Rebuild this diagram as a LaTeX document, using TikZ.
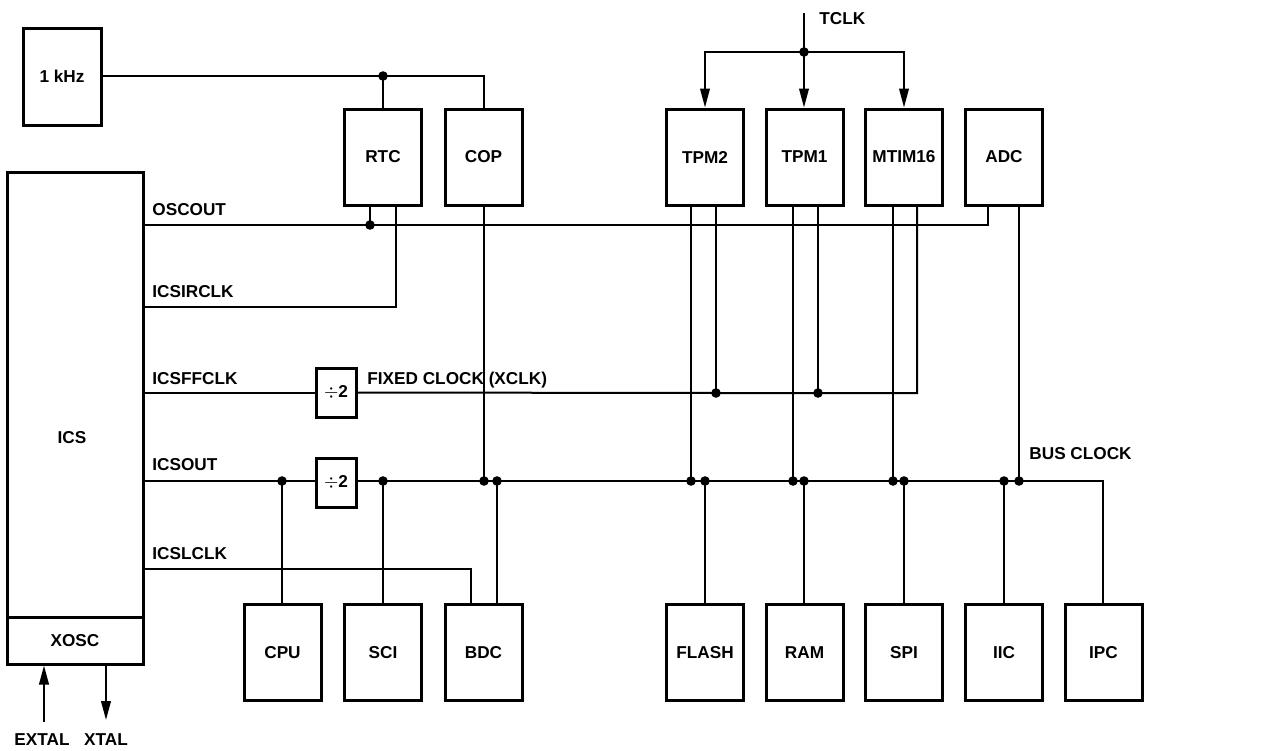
\documentclass[tikz,border=0pt]{standalone}
\usepackage{fontspec}
\setmainfont{Liberation Sans}
\usetikzlibrary{arrows.meta}
\begin{document}
\begin{tikzpicture}[x=0.5pt,y=-0.5pt,
  every node/.style={font=\fontsize{8.6}{10}\selectfont\bfseries},
  blk/.style={draw,line width=1.5pt,minimum width=38.5pt,minimum height=48pt,inner sep=0pt},
  divbox/.style={draw,line width=1.5pt,minimum width=20pt,minimum height=24.5pt,inner sep=0pt},
  wire/.style={line width=1pt},
  arr/.style={line width=1pt,-{Triangle[length=9.5pt,width=4.8pt]}},
  dot/.style={circle,fill,inner sep=0pt,minimum size=4.8pt},
  lbl/.style={anchor=base west,inner sep=0pt}]
\useasboundingbox (0,0) rectangle (1274,750);
% boxes
\node[blk,minimum width=39pt,minimum height=48.5pt] (khz) at (62,76.5) {1 kHz};
\node[blk] (rtc) at (383,157) {RTC};
\node[blk] (cop) at (483.5,157) {COP};
\node[blk] (tpm2) at (705,157) {TPM2};
\node[blk] (tpm1) at (804.5,157) {TPM1};
\node[blk] (mtim) at (904,157) {MTIM16};
\node[blk] (adc) at (1004,157) {ADC};
\node[blk] (cpu) at (282.5,652.5) {CPU};
\node[blk] (sci) at (383,652.5) {SCI};
\node[blk] (bdc) at (483.5,652.5) {BDC};
\node[blk] (flash) at (705,652.5) {FLASH};
\node[blk] (ram) at (804.5,652.5) {RAM};
\node[blk] (spi) at (904,652.5) {SPI};
\node[blk] (iic) at (1004,652.5) {IIC};
\node[blk] (ipc) at (1103.5,652.5) {IPC};
\node[blk,minimum width=68pt,minimum height=222.5pt] (ics) at (75,394.5) {};
\node (icslbl) at (72,438) {ICS};
\node[blk,minimum width=68pt,minimum height=23.5pt] (xosc) at (75,640.5) {XOSC};
\node[divbox] (div1) at (336,392.5) {$\div$2};
\node[divbox] (div2) at (336,482.5) {$\div$2};
% labels
\node[lbl] (l1) at (152,215) {OSCOUT};
\node[lbl] (l2) at (152,297) {ICSIRCLK};
\node[lbl] (l3) at (152,384) {ICSFFCLK};
\node[lbl] (l4) at (152,470) {ICSOUT};
\node[lbl] (l5) at (152,559) {ICSLCLK};
\node[lbl] (l6) at (367,384) {FIXED CLOCK (XCLK)};
\node[lbl] (l7) at (1029,459) {BUS CLOCK};
\node[lbl] (l8) at (819,24) {TCLK};
\node (l9) at (42,740) {EXTAL};
\node (l10) at (106,740) {XTAL};
% junction dots
\node[dot] (jk) at (383,76) {};
\node[dot] (jt) at (804,52) {};
\node[dot] (jo) at (370,225) {};
\node[dot] (jx1) at (716,393) {};
\node[dot] (jx2) at (818,393) {};
\node[dot] (b1) at (282,481) {};
\node[dot] (b2) at (383,481) {};
\node[dot] (b3) at (484,481) {};
\node[dot] (b4) at (497,481) {};
\node[dot] (b5) at (691,481) {};
\node[dot] (b6) at (705,481) {};
\node[dot] (b7) at (793,481) {};
\node[dot] (b8) at (804,481) {};
\node[dot] (b9) at (893,481) {};
\node[dot] (b10) at (904,481) {};
\node[dot] (b11) at (1004,481) {};
\node[dot] (b12) at (1019,481) {};
\coordinate (tclktop) at (804,13);
\coordinate (extalbot) at (44,722);
\coordinate (xtalbot) at (106,720);
% 1 kHz
\draw[wire] (khz.east |- jk) -- (jk.center) -- (cop.north |- jk) -- (cop.north);
\draw[wire] (jk.center) -- (rtc.north -| jk);
% TCLK
\draw[wire] (tclktop) -- (jt.center);
\draw[arr] (jt.center) -- (tpm1.north -| jt);
\draw[arr] (jt.center) -| (tpm2.north);
\draw[arr] (jt.center) -| (mtim.north);
% OSCOUT
\draw[wire] (ics.east |- jo) -- (jo.center) -- (988,225) -- (adc.south -| 988,0);
\draw[wire] (jo.center) -- (rtc.south -| jo);
% ICSIRCLK
\draw[wire] (ics.east |- 0,307) -- (396,307) -- (rtc.south -| 396,0);
% ICSFFCLK
\draw[wire] (ics.east |- div1) -- (div1.west);
\draw[wire] (div1.east) -- (jx1.center) -- (jx2.center) -- (917,393) -- (mtim.south -| 917,0);
\draw[wire] (jx1.center) -- (tpm2.south -| jx1);
\draw[wire] (jx2.center) -- (tpm1.south -| jx2);
% ICSOUT / bus clock
\draw[wire] (ics.east |- b1) -- (div2.west |- b1);
\draw[wire] (div2.east |- b2) -- (b2.center) -- (1103,481) -- (ipc.north -| 1103,0);
\draw[wire] (b1.center) -- (cpu.north -| b1);
\draw[wire] (b2.center) -- (sci.north -| b2);
\draw[wire] (b3.center) -- (cop.south -| b3);
\draw[wire] (b4.center) -- (bdc.north -| b4);
\draw[wire] (b5.center) -- (tpm2.south -| b5);
\draw[wire] (b6.center) -- (flash.north -| b6);
\draw[wire] (b7.center) -- (tpm1.south -| b7);
\draw[wire] (b8.center) -- (ram.north -| b8);
\draw[wire] (b9.center) -- (mtim.south -| b9);
\draw[wire] (b10.center) -- (spi.north -| b10);
\draw[wire] (b11.center) -- (iic.north -| b11);
\draw[wire] (b12.center) -- (adc.south -| b12);
% ICSLCLK
\draw[wire] (ics.east |- 0,569) -- (471,569) -- (bdc.north -| 471,0);
% EXTAL / XTAL
\draw[arr] (extalbot) -- (xosc.south -| extalbot);
\draw[arr] (xosc.south -| xtalbot) -- (xtalbot);
\end{tikzpicture}
\end{document}
